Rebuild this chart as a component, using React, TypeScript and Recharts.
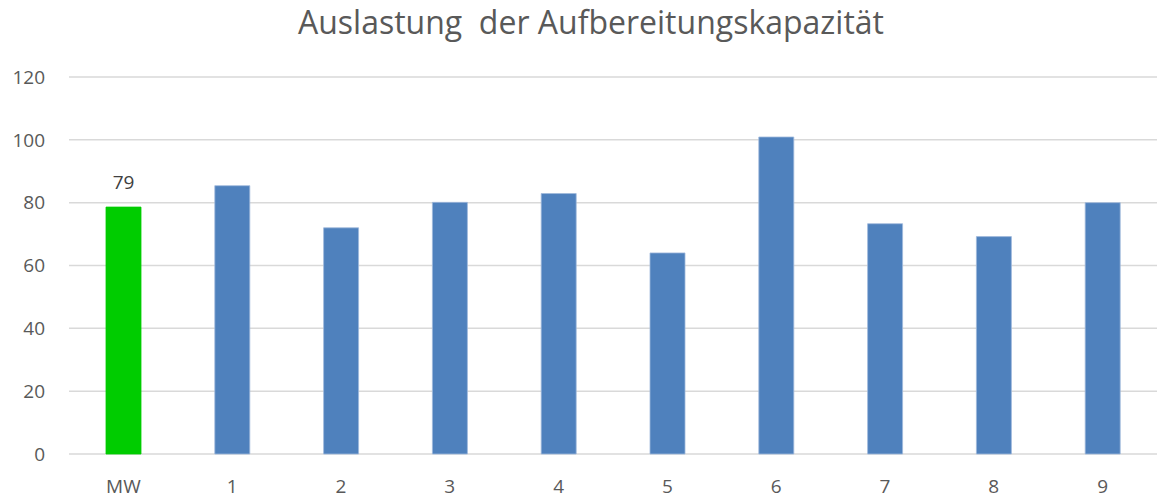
import { Bar, BarChart, CartesianGrid, Cell, LabelList, XAxis, YAxis } from 'recharts';

const categories = ['MW', '1', '2', '3', '4', '5', '6', '7', '8', '9'];
const values = [78.6, 85.4, 72.0, 80.1, 82.9, 64.0, 100.9, 73.3, 69.2, 80.0];
const yTicks = [0, 20, 40, 60, 80, 100, 120];

const data = categories.map((name, i) => ({
  name,
  value: values[i],
  label: i === 0 ? Math.round(values[i]) : undefined,
}));

const FONT = "'Open Sans', sans-serif";

export default function App() {
  return (
    <div style={{ position: 'absolute', left: 0, top: 0, width: 1157, height: 498, background: '#fff' }}>
      <div
        style={{
          position: 'absolute',
          left: 0,
          top: 0,
          width: 1182,
          textAlign: 'center',
          fontFamily: FONT,
          fontSize: 32,
          color: '#595959',
          whiteSpace: 'pre',
        }}
      >
        {'Auslastung  der Aufbereitungskapazität'}
      </div>
      <BarChart
        width={1157}
        height={498}
        data={data}
        margin={{ top: 77, right: 0, bottom: 0, left: 0 }}
      >
        <CartesianGrid vertical={false} stroke="#D9D9D9" strokeWidth={1.5} />
        <XAxis
          dataKey="name"
          height={44}
          axisLine={false}
          tickLine={false}
          tickSize={0}
          tickMargin={26}
          tick={{ fontSize: 19, fill: '#595959', fontFamily: FONT }}
        />
        <YAxis
          width={69}
          domain={[0, 120]}
          ticks={yTicks}
          axisLine={false}
          tickLine={false}
          tickSize={0}
          tickMargin={24}
          tick={{ fontSize: 19, fill: '#595959', fontFamily: FONT }}
        />
        <Bar dataKey="value" barSize={35} stroke="#9FB9DC" strokeWidth={0.8} isAnimationActive={false}>
          {data.map((d, i) => (
            <Cell key={d.name} fill={i === 0 ? '#00CC00' : '#4F81BD'} stroke={i === 0 ? '#00CC00' : '#9FB9DC'} />
          ))}
          <LabelList
            dataKey="label"
            position="top"
            offset={18}
            style={{ fontSize: 19, fill: '#404040', fontFamily: FONT }}
          />
        </Bar>
      </BarChart>
    </div>
  );
}
